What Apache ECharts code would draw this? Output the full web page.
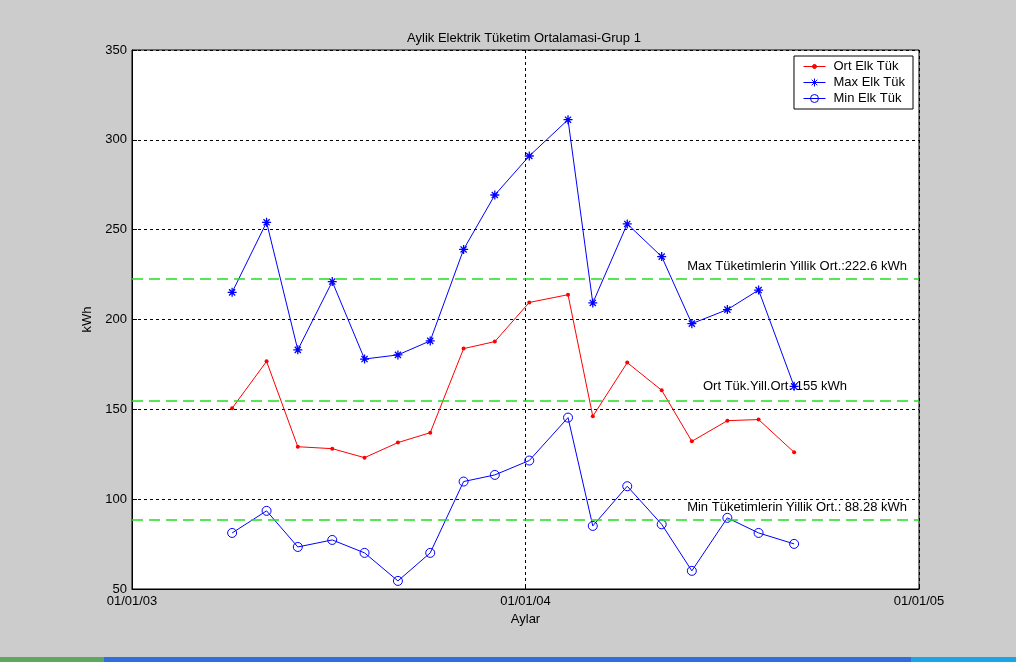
<!DOCTYPE html>
<html>
<head>
<meta charset="utf-8">
<script src="https://cdn.jsdelivr.net/npm/echarts@6/dist/echarts.min.js"></script>
<style>
html,body{margin:0;padding:0;background:#cccccc;}
#c{width:1016px;height:662px;}
</style>
</head>
<body>
<div id="c"></div>
<script>
// ---- data ----
const dates = ['2003-04-04','2003-05-06','2003-06-04','2003-07-06','2003-08-05','2003-09-05','2003-10-05','2003-11-05','2003-12-04','2004-01-05','2004-02-10','2004-03-04','2004-04-05','2004-05-07','2004-06-04','2004-07-07','2004-08-05','2004-09-07'];
const ortValues = [150.6,176.7,129.2,128.1,123.1,131.5,137.0,183.8,187.7,209.5,213.8,146.1,176.0,160.6,132.2,143.7,144.3,126.1];
const maxValues = [215.1,254.1,183.1,221.1,178.0,180.3,188.1,239.0,269.3,291.0,311.2,209.2,253.2,235.0,197.7,205.5,216.4,162.8];
const minValues = [81.2,93.5,73.4,77.3,70.1,54.5,70.1,109.8,113.5,121.5,145.4,85.1,107.2,86.0,60.1,89.6,81.2,75.1];
const seriesNames = ['Ort Elk Tük','Max Elk Tük','Min Elk Tük'];
const yearlyAverages = [222.6, 155, 88.28];
const averageLabels = ['Max Tüketimlerin Yillik Ort.:222.6 kWh','Ort Tük.Yill.Ort.:155 kWh','Min Tüketimlerin Yillik Ort.: 88.28 kWh'];
const xStart = '2003-01-01';
const xEnd = '2005-01-01';
const yTicks = [50,100,150,200,250,300,350];

// ---- helpers ----
const DAY = 86400000;
const t0 = Date.parse(xStart + 'T00:00:00Z');
function dayOffset(s){ return (Date.parse(s + 'T00:00:00Z') - t0) / DAY; }
function fmtDay(v){
  const d = new Date(t0 + Math.floor(v + 1e-6) * DAY);
  const p = n => String(n).padStart(2,'0');
  return p(d.getUTCDate()) + '/' + p(d.getUTCMonth()+1) + '/' + p(d.getUTCFullYear() % 100);
}
const xMax = dayOffset(xEnd);
const pair = vals => dates.map((d,i) => [dayOffset(d), vals[i]]);

const FONT = 'Liberation Sans, Arial, sans-serif';
const FS = 13;
const chart = echarts.init(document.getElementById('c'), null, {renderer:'canvas'});

const asterisk = 'path://M0,5L10,5M5,0L5,10M1.6,1.6L8.4,8.4M1.6,8.4L8.4,1.6';
const ring = 'path://M10,5A5,5,0,1,1,0,5A5,5,0,1,1,10,5Z';
const iconOrt = 'path://M0,2L22,2M9,2A2,2,0,1,1,13,2A2,2,0,1,1,9,2Z';
const iconMax = 'path://M0,4L22,4M11,0L11,8M8.2,1.2L13.8,6.8M8.2,6.8L13.8,1.2';
const iconMin = 'path://M0,4L22,4M15,4A4,4,0,1,1,7,4A4,4,0,1,1,15,4Z';
const green = '#22dd22';

const option = {
  backgroundColor: '#cccccc',
  animation: false,
  textStyle: {fontFamily: FONT, color: '#000'},
  title: {
    text: 'Aylik Elektrik Tüketim Ortalamasi-Grup 1',
    left: 519, top: 27, textAlign: 'center',
    textStyle: {fontSize: FS, fontWeight: 'normal', color: '#000', fontFamily: FONT}
  },
  grid: {
    left: 132, top: 50, right: 97, bottom: 73,
    show: true, backgroundColor: '#ffffff', borderColor: '#000', borderWidth: 1
  },
  legend: {
    orient: 'vertical',
    right: 103, top: 56,
    backgroundColor: '#ffffff', borderColor: '#000', borderWidth: 1,
    padding: [4, 8, 4, 9],
    itemWidth: 22, itemHeight: 14, itemGap: 3,
    textStyle: {fontSize: FS, fontFamily: FONT, color: '#000', padding: [0,0,0,3]},
    data: [
      {name: seriesNames[0], icon: iconOrt, itemStyle: {color: '#ff0000', borderColor: '#ff0000', borderWidth: 1}},
      {name: seriesNames[1], icon: iconMax, itemStyle: {color: '#0000ff', borderColor: '#0000ff', borderWidth: 1}},
      {name: seriesNames[2], icon: iconMin, itemStyle: {color: 'rgba(0,0,0,0)', borderColor: '#0000ff', borderWidth: 1}}
    ]
  },
  xAxis: {
    type: 'value', min: 0, max: xMax, interval: xMax / 2,
    name: 'Aylar', nameLocation: 'middle', nameGap: 22,
    nameTextStyle: {fontSize: FS, color: '#000'},
    axisLine: {show: true, lineStyle: {color: '#000'}},
    axisTick: {show: true, inside: true, length: 5, lineStyle: {color: '#000'}},
    axisLabel: {fontSize: FS, color: '#000', margin: 6, formatter: v => fmtDay(v)},
    splitLine: {show: true, lineStyle: {color: '#000', type: [3,3], width: 1}}
  },
  yAxis: {
    type: 'value', min: yTicks[0], max: yTicks[yTicks.length-1], interval: yTicks[1]-yTicks[0],
    name: 'kWh', nameLocation: 'middle', nameGap: 28, nameRotate: 90,
    nameTextStyle: {fontSize: FS, color: '#000'},
    axisLine: {show: true, lineStyle: {color: '#000'}},
    axisTick: {show: true, inside: true, length: 5, lineStyle: {color: '#000'}},
    axisLabel: {fontSize: FS, color: '#000', margin: 5},
    splitLine: {show: true, lineStyle: {color: '#000', type: [3,3], width: 1}}
  },
  series: [
    {
      name: seriesNames[0], type: 'line', data: pair(ortValues),
      symbol: 'circle', symbolSize: 4,
      lineStyle: {color: '#ff0000', width: 1},
      itemStyle: {color: '#ff0000'},
      z: 3,
      markLine: {
        silent: true, symbol: 'none', animation: false,
        lineStyle: {color: green, type: [11,6], width: 1.5},
        label: {show: true, position: 'insideEndTop', color: '#000', fontSize: FS, fontFamily: FONT},
        data: [
          {yAxis: yearlyAverages[0], label: {formatter: averageLabels[0], distance: [12, 6]}},
          {yAxis: yearlyAverages[1], label: {formatter: averageLabels[1], distance: [72, 7]}},
          {yAxis: yearlyAverages[2], label: {formatter: averageLabels[2], distance: [12, 6]}}
        ]
      }
    },
    {
      name: seriesNames[1], type: 'line', data: pair(maxValues),
      symbol: asterisk, symbolSize: 9,
      lineStyle: {color: '#0000ff', width: 1},
      itemStyle: {color: '#0000ff', borderColor: '#0000ff', borderWidth: 1.3},
      z: 4
    },
    {
      name: seriesNames[2], type: 'line', data: pair(minValues),
      symbol: ring, symbolSize: 9,
      lineStyle: {color: '#0000ff', width: 1},
      itemStyle: {color: 'rgba(0,0,0,0)', borderColor: '#0000ff', borderWidth: 1},
      z: 4
    }
  ],
  graphic: [
    {type: 'rect', left: 0, top: 657, shape: {width: 104, height: 5}, style: {fill: '#5ea85e'}, silent: true},
    {type: 'rect', left: 104, top: 657, shape: {width: 807, height: 5}, style: {fill: '#2e6fe0'}, silent: true},
    {type: 'rect', left: 911, top: 657, shape: {width: 105, height: 5}, style: {fill: '#1aa6e6'}, silent: true}
  ]
};
chart.setOption(option);
</script>
</body>
</html>
